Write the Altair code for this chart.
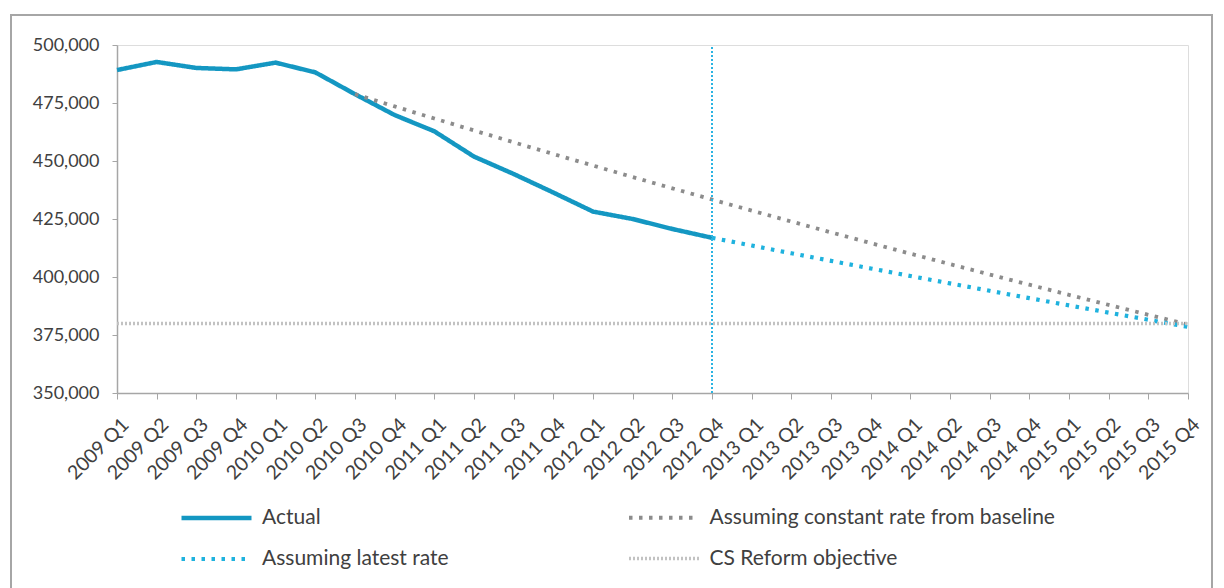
import altair as alt
import pandas as pd

quarters = [
    "2009 Q1", "2009 Q2", "2009 Q3", "2009 Q4",
    "2010 Q1", "2010 Q2", "2010 Q3", "2010 Q4",
    "2011 Q1", "2011 Q2", "2011 Q3", "2011 Q4",
    "2012 Q1", "2012 Q2", "2012 Q3", "2012 Q4",
    "2013 Q1", "2013 Q2", "2013 Q3", "2013 Q4",
    "2014 Q1", "2014 Q2", "2014 Q3", "2014 Q4",
    "2015 Q1", "2015 Q2", "2015 Q3", "2015 Q4",
]

# Headcount actually recorded, 2009 Q1 - 2012 Q4
actual = [489200, 492700, 490100, 489500, 492400, 488200, 478800, 469800,
          462800, 451900, 444400, 436400, 428200, 425000, 420700, 416900]

# Projection at the constant rate seen since the baseline, 2010 Q3 - 2015 Q4
constant_rate = [478800, 473530, 468320, 463160, 458060, 453020, 448030, 443100,
                 438220, 433400, 428630, 423910, 419240, 414630, 410060, 405550,
                 401080, 396670, 392300, 387980, 383710, 379500]

# Projection at the latest rate, 2012 Q4 - 2015 Q4
latest_rate = [416900, 413560, 410240, 406950, 403690, 400450, 397240,
               394050, 390890, 387760, 384650, 381560, 378500]

objective = 380000
latest_quarter = "2012 Q4"

# Legend entries fill column by column: left column first, then right column
series_names = [
    "Actual",
    "Assuming latest rate",
    "Assuming constant rate from baseline",
    "CS Reform objective",
]
series_colors = ["#1497c2", "#1fb2de", "#8c8c8c", "#c2c2c2"]
series_dash = [[1, 0], [3.5, 6.5], [3.5, 6.5], [2, 2]]
series_width = [4.5, 3.5, 3.5, 1]

rows = []
for q, v in zip(quarters, actual):
    rows.append({"quarter": q, "value": v, "series": "Actual"})
for q, v in zip(quarters[6:], constant_rate):
    rows.append({"quarter": q, "value": v, "series": "Assuming constant rate from baseline"})
for q, v in zip(quarters[15:], latest_rate):
    rows.append({"quarter": q, "value": v, "series": "Assuming latest rate"})
for q in quarters:
    rows.append({"quarter": q, "value": objective, "series": "CS Reform objective"})
df = pd.DataFrame(rows)

# draw order: objective underneath, actual on top
draw_rank = {"CS Reform objective": 0, "Assuming constant rate from baseline": 1,
             "Assuming latest rate": 2, "Actual": 3}
df["rank"] = df["series"].map(draw_rank)

FONT = "Lato"
TEXT = "#404040"
AXIS = "#a6a6a6"

x_scale = alt.Scale(type="point", padding=0, domain=quarters)
x_enc = alt.X(
    "quarter:O",
    sort=quarters,
    scale=x_scale,
    axis=alt.Axis(
        title=None, labelAngle=-45, labelFontSize=19.5, labelColor=TEXT,
        labelFont=FONT, domainColor=AXIS, domainWidth=1.5, tickColor=AXIS,
        tickSize=6, labelPadding=16, labelOffset=2, grid=False,
    ),
)
y_scale = alt.Scale(domain=[350000, 500000], nice=False, zero=False)
y_axis = alt.Axis(
    title=None, values=list(range(350000, 500001, 25000)), format=",d",
    labelFontSize=18, labelColor=TEXT, labelFont=FONT, domainColor=AXIS,
    domainWidth=1.5, tickColor=AXIS, tickSize=5, labelPadding=13, grid=False,
)

# a long flat line-sample symbol (twice the symbol box width) keeps rows compact
legend = alt.Legend(
    title=None, orient="none", legendX=79.5, legendY=453, columns=2,
    columnPadding=171.5, rowPadding=11, symbolType="M-2,0H2", symbolSize=1225,
    labelFontSize=21, labelFont=FONT, labelColor=TEXT, labelOffset=25.5,
    labelLimit=500,
)

lines = alt.Chart(df).mark_line(strokeCap="butt").encode(
    x=x_enc,
    y=alt.Y("value:Q", scale=y_scale, axis=y_axis),
    color=alt.Color("series:N", scale=alt.Scale(domain=series_names, range=series_colors), legend=legend),
    strokeDash=alt.StrokeDash("series:N", scale=alt.Scale(domain=series_names, range=series_dash), legend=legend),
    strokeWidth=alt.StrokeWidth("series:N", scale=alt.Scale(domain=series_names, range=series_width), legend=legend),
    detail="series:N",
    order=alt.Order("rank:Q"),
)

marker = alt.Chart(pd.DataFrame({"quarter": [latest_quarter], "lo": [350000], "hi": [500000]})).mark_rule(
    color="#2ab4e2", strokeWidth=2, strokeDash=[2, 2]
).encode(
    x=alt.X("quarter:O", sort=quarters, scale=x_scale),
    y=alt.Y("lo:Q", scale=y_scale),
    y2="hi:Q",
)

frame = alt.Chart(pd.DataFrame({"k": [0]})).mark_rect(
    fill=None, stroke="#a6a6a6", strokeWidth=2, clip=False
).encode(
    x=alt.value(-106), x2=alt.value(1095), y=alt.value(-30), y2=alt.value(600),
)

chart = alt.layer(frame, lines, marker).properties(
    width=1071, height=348,
    autosize=alt.AutoSizeParams(type="none"),
    padding={"left": 117, "top": 45, "right": 36, "bottom": 195},
).configure_view(stroke=None).configure(background="white")

chart.save("out.html", embed_options={"renderer": "svg", "actions": False})
